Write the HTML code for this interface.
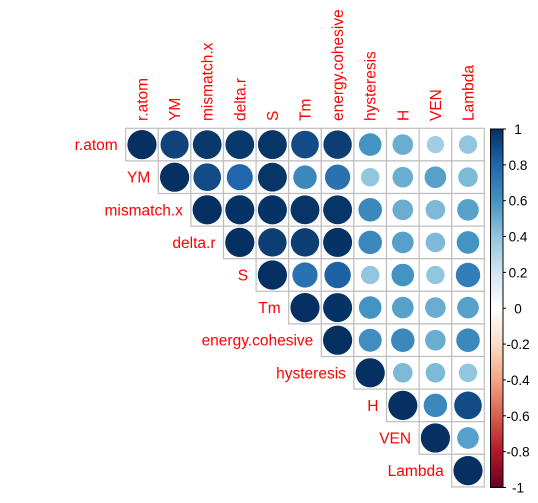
<!DOCTYPE html>
<html><head><meta charset="utf-8"><style>
html,body{margin:0;padding:0;background:#fff;width:538px;height:503px;overflow:hidden}
svg{display:block;font-family:"Liberation Sans",sans-serif}
</style></head><body>
<svg id="chart" width="538" height="503"></svg>
<script>
const variables = ["r.atom","YM","mismatch.x","delta.r","S","Tm","energy.cohesive","hysteresis","H","VEN","Lambda"];
const row0 = [1,0.93,0.97,0.97,0.98,0.9,0.95,0.6,0.5,0.35,0.4];
const row1 = [1,0.9,0.8,0.98,0.65,0.75,0.4,0.5,0.55,0.45];
const row2 = [1,0.99,0.99,0.98,0.98,0.65,0.5,0.45,0.55];
const row3 = [1,0.95,0.95,0.99,0.65,0.55,0.45,0.6];
const row4 = [1,0.75,0.82,0.4,0.6,0.4,0.7];
const row5 = [1,0.99,0.6,0.55,0.5,0.55];
const row6 = [1,0.62,0.65,0.5,0.65];
const row7 = [1,0.45,0.45,0.4];
const row8 = [1,0.65,0.9];
const row9 = [1,0.55];
const row10 = [1];
const rows = [row0,row1,row2,row3,row4,row5,row6,row7,row8,row9,row10];
const colorTicks = [1,0.8,0.6,0.4,0.2,0,-0.2,-0.4,-0.6,-0.8,-1];
const tickLabels = ["1","0.8","0.6","0.4","0.2","0","-0.2","-0.4","-0.6","-0.8","-1"];

const pal = ["#67001F","#B2182B","#D6604D","#F4A582","#FDDBC7","#FFFFFF","#D1E5F0","#92C5DE","#4393C3","#2166AC","#053061"];
const NS="http://www.w3.org/2000/svg";
const svg=document.getElementById('chart');
const x0=125.7, y0=128.3, cw=32.6;
const cx=i=>x0+i*cw+cw/2, cy=j=>y0+j*cw+cw/2;
function hex(h){return [1,3,5].map(k=>parseInt(h.substr(k,2),16));}
function color(v){
  const t=(v+1)/2*(pal.length-1); const i=Math.min(Math.floor(t),pal.length-2); const f=t-i;
  const a=hex(pal[i]),b=hex(pal[i+1]);
  return "rgb("+a.map((c,k)=>Math.round(c+(b[k]-c)*f)).join(",")+")";
}
function mk(tag,attrs){const e=document.createElementNS(NS,tag);for(const k in attrs)e.setAttribute(k,attrs[k]);svg.appendChild(e);return e;}

rows.forEach((r,j)=>{
  r.forEach((v,k)=>{
    const i=j+k;
    const rc=mk('rect',{x:x0+i*cw,y:y0+j*cw,width:cw,height:cw,fill:'#fff',stroke:'#BEBEBE','stroke-width':1.2});
    
    
  });
});
rows.forEach((r,j)=>{
  r.forEach((v,k)=>{
    const i=j+k;
    const c=mk('circle',{cx:cx(i),cy:cy(j),r:14.6*Math.sqrt(Math.abs(v)),fill:color(v)});
    
    
  });
});
variables.forEach((n,i)=>{
  const t=mk('text',{x:0,y:0,transform:'translate('+(cx(i)+5.5)+',121) rotate(-90)',fill:'#FF0000','font-size':15.5});
  t.textContent=n;
  
  
  const s=mk('text',{x:x0+i*cw-8,y:cy(i)+5.5,fill:'#FF0000','font-size':15.5,'text-anchor':'end'});
  s.textContent=n;
  
  
});
// colorbar
const defs=mk('defs',{});
const g=document.createElementNS(NS,'linearGradient');g.setAttribute('id','grad');g.setAttribute('x1',0);g.setAttribute('y1',1);g.setAttribute('x2',0);g.setAttribute('y2',0);
pal.forEach((p,k)=>{const s=document.createElementNS(NS,'stop');s.setAttribute('offset',k/(pal.length-1));s.setAttribute('stop-color',p);g.appendChild(s);});
defs.appendChild(g);
const cbT=129, cbB=487.5, cbL=490.5, cbR=503;
const cby=v=>cbB-(v+1)/2*(cbB-cbT);
const bar=mk('rect',{x:cbL,y:cbT,width:cbR-cbL,height:cbB-cbT,fill:'url(#grad)',stroke:'#000','stroke-width':1});


colorTicks.forEach((v,k)=>{
  const l=mk('line',{x1:cbR,x2:cbR+3,y1:cby(v),y2:cby(v),stroke:'#000'});
  
  
  const t=mk('text',{x:518,y:cby(v)+5,'font-size':13.5,'text-anchor':'middle',fill:'#000'});
  t.textContent=tickLabels[k];
  
  
});
</script>
</body></html>
